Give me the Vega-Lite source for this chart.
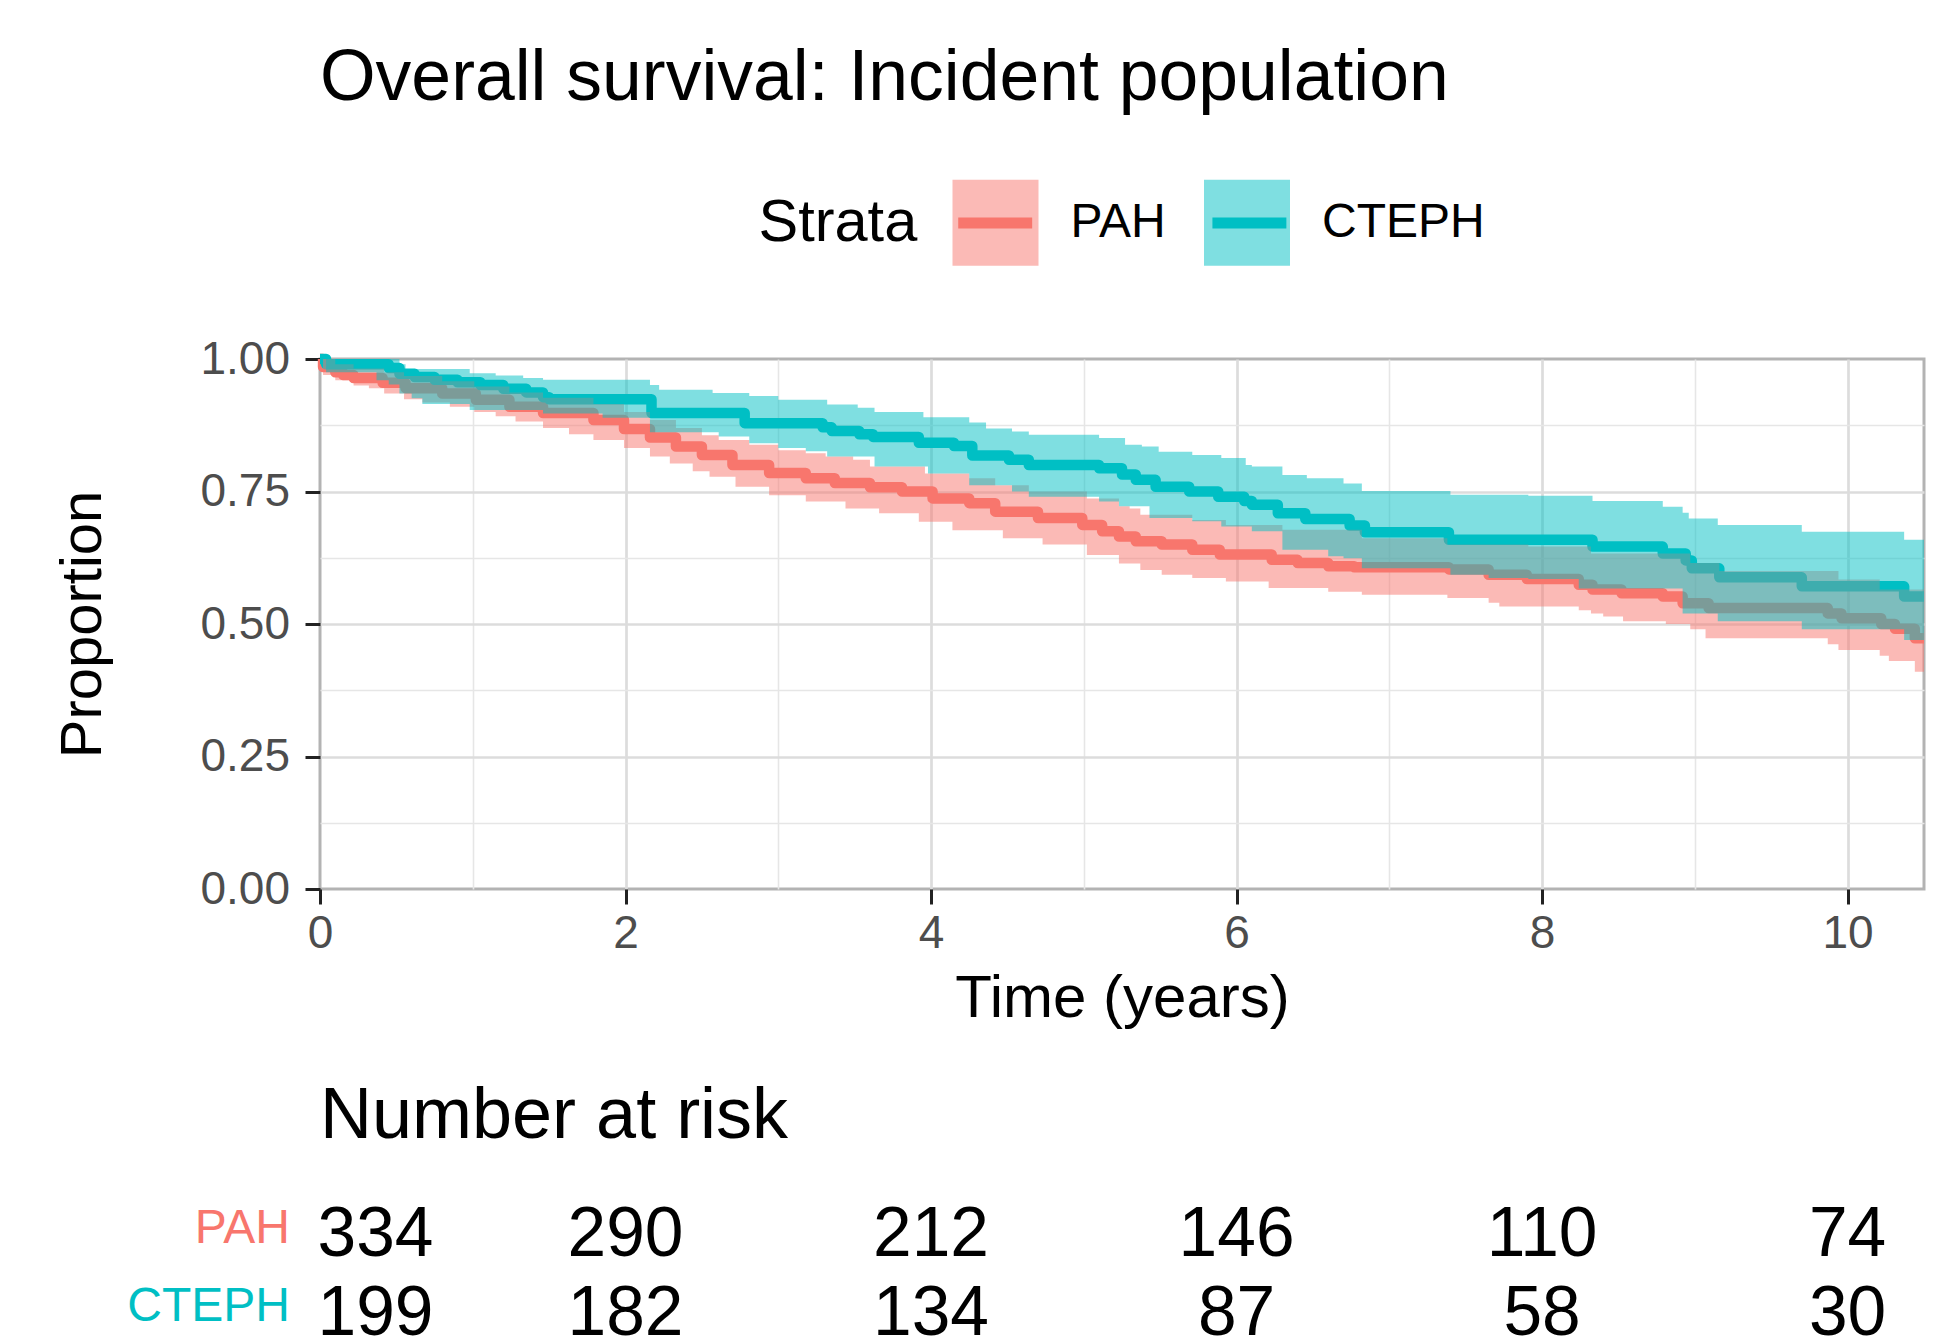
{
  "$schema": "https://vega.github.io/schema/vega-lite/v6.json",
  "background": "white",
  "padding": {"left": 53, "top": 41, "right": 20, "bottom": 0},
  "spacing": 50,
  "config": {
    "font": "Liberation Sans",
    "view": {"stroke": null},
    "title": {"fontWeight": "normal", "color": "black", "font": "Liberation Sans"}
  },
  "datasets": {
    "curve": [
      {"strata": "PAH", "time": 0, "surv": 1.0},
      {"strata": "PAH", "time": 0.02, "surv": 0.985},
      {"strata": "PAH", "time": 0.1, "surv": 0.975},
      {"strata": "PAH", "time": 0.15, "surv": 0.97},
      {"strata": "PAH", "time": 0.22, "surv": 0.964},
      {"strata": "PAH", "time": 0.41, "surv": 0.955},
      {"strata": "PAH", "time": 0.56, "surv": 0.945},
      {"strata": "PAH", "time": 0.8, "surv": 0.935},
      {"strata": "PAH", "time": 1.02, "surv": 0.923},
      {"strata": "PAH", "time": 1.24, "surv": 0.91},
      {"strata": "PAH", "time": 1.46, "surv": 0.898},
      {"strata": "PAH", "time": 1.79, "surv": 0.885},
      {"strata": "PAH", "time": 1.99, "surv": 0.868},
      {"strata": "PAH", "time": 2.16, "surv": 0.852},
      {"strata": "PAH", "time": 2.33, "surv": 0.835},
      {"strata": "PAH", "time": 2.5, "surv": 0.819},
      {"strata": "PAH", "time": 2.7, "surv": 0.8},
      {"strata": "PAH", "time": 2.94, "surv": 0.785},
      {"strata": "PAH", "time": 3.18, "surv": 0.775},
      {"strata": "PAH", "time": 3.37, "surv": 0.766},
      {"strata": "PAH", "time": 3.6, "surv": 0.758},
      {"strata": "PAH", "time": 3.81, "surv": 0.75},
      {"strata": "PAH", "time": 4.01, "surv": 0.737},
      {"strata": "PAH", "time": 4.25, "surv": 0.728},
      {"strata": "PAH", "time": 4.42, "surv": 0.712},
      {"strata": "PAH", "time": 4.7, "surv": 0.7},
      {"strata": "PAH", "time": 4.99, "surv": 0.687},
      {"strata": "PAH", "time": 5.12, "surv": 0.675},
      {"strata": "PAH", "time": 5.23, "surv": 0.665},
      {"strata": "PAH", "time": 5.34, "surv": 0.656},
      {"strata": "PAH", "time": 5.51, "surv": 0.65},
      {"strata": "PAH", "time": 5.71, "surv": 0.64},
      {"strata": "PAH", "time": 5.89, "surv": 0.631},
      {"strata": "PAH", "time": 6.23, "surv": 0.621},
      {"strata": "PAH", "time": 6.4, "surv": 0.615},
      {"strata": "PAH", "time": 6.6, "surv": 0.609},
      {"strata": "PAH", "time": 6.77, "surv": 0.607},
      {"strata": "PAH", "time": 7.39, "surv": 0.603},
      {"strata": "PAH", "time": 7.65, "surv": 0.593},
      {"strata": "PAH", "time": 7.9, "surv": 0.585},
      {"strata": "PAH", "time": 8.24, "surv": 0.574},
      {"strata": "PAH", "time": 8.33, "surv": 0.565},
      {"strata": "PAH", "time": 8.52, "surv": 0.558},
      {"strata": "PAH", "time": 8.79, "surv": 0.552},
      {"strata": "PAH", "time": 8.92, "surv": 0.539},
      {"strata": "PAH", "time": 9.09, "surv": 0.53},
      {"strata": "PAH", "time": 9.87, "surv": 0.52},
      {"strata": "PAH", "time": 9.96, "surv": 0.511},
      {"strata": "PAH", "time": 10.22, "surv": 0.5},
      {"strata": "PAH", "time": 10.31, "surv": 0.491},
      {"strata": "PAH", "time": 10.44, "surv": 0.473},
      {"strata": "PAH", "time": 10.5, "surv": 0.473},
      {"strata": "CTEPH", "time": 0, "surv": 1.0},
      {"strata": "CTEPH", "time": 0.04, "surv": 0.99},
      {"strata": "CTEPH", "time": 0.45, "surv": 0.983},
      {"strata": "CTEPH", "time": 0.52, "surv": 0.972},
      {"strata": "CTEPH", "time": 0.62, "surv": 0.966},
      {"strata": "CTEPH", "time": 0.75, "surv": 0.961},
      {"strata": "CTEPH", "time": 0.9, "surv": 0.956},
      {"strata": "CTEPH", "time": 1.05, "surv": 0.951},
      {"strata": "CTEPH", "time": 1.2, "surv": 0.944},
      {"strata": "CTEPH", "time": 1.35, "surv": 0.937},
      {"strata": "CTEPH", "time": 1.46, "surv": 0.928},
      {"strata": "CTEPH", "time": 1.5, "surv": 0.924},
      {"strata": "CTEPH", "time": 2.17, "surv": 0.898},
      {"strata": "CTEPH", "time": 2.78, "surv": 0.879},
      {"strata": "CTEPH", "time": 3.29, "surv": 0.871},
      {"strata": "CTEPH", "time": 3.35, "surv": 0.864},
      {"strata": "CTEPH", "time": 3.53, "surv": 0.858},
      {"strata": "CTEPH", "time": 3.62, "surv": 0.853},
      {"strata": "CTEPH", "time": 3.92, "surv": 0.842},
      {"strata": "CTEPH", "time": 4.15, "surv": 0.836},
      {"strata": "CTEPH", "time": 4.27, "surv": 0.818},
      {"strata": "CTEPH", "time": 4.51, "surv": 0.81},
      {"strata": "CTEPH", "time": 4.64, "surv": 0.8},
      {"strata": "CTEPH", "time": 5.1, "surv": 0.794},
      {"strata": "CTEPH", "time": 5.25, "surv": 0.782},
      {"strata": "CTEPH", "time": 5.34, "surv": 0.772},
      {"strata": "CTEPH", "time": 5.47, "surv": 0.759},
      {"strata": "CTEPH", "time": 5.69, "surv": 0.75},
      {"strata": "CTEPH", "time": 5.88, "surv": 0.74},
      {"strata": "CTEPH", "time": 6.05, "surv": 0.732},
      {"strata": "CTEPH", "time": 6.1, "surv": 0.725},
      {"strata": "CTEPH", "time": 6.27, "surv": 0.709},
      {"strata": "CTEPH", "time": 6.45, "surv": 0.698},
      {"strata": "CTEPH", "time": 6.74, "surv": 0.686},
      {"strata": "CTEPH", "time": 6.84, "surv": 0.673},
      {"strata": "CTEPH", "time": 7.39, "surv": 0.659},
      {"strata": "CTEPH", "time": 8.33, "surv": 0.646},
      {"strata": "CTEPH", "time": 8.79, "surv": 0.633},
      {"strata": "CTEPH", "time": 8.94, "surv": 0.62},
      {"strata": "CTEPH", "time": 8.98, "surv": 0.605},
      {"strata": "CTEPH", "time": 9.16, "surv": 0.588},
      {"strata": "CTEPH", "time": 9.7, "surv": 0.571},
      {"strata": "CTEPH", "time": 10.37, "surv": 0.552},
      {"strata": "CTEPH", "time": 10.5, "surv": 0.552}
    ],
    "band": [
      {"strata": "PAH", "time": 0, "lower": 1.0, "upper": 1.0},
      {"strata": "PAH", "time": 0.02, "lower": 0.97, "upper": 1.0},
      {"strata": "PAH", "time": 0.1, "lower": 0.96, "upper": 0.99},
      {"strata": "PAH", "time": 0.22, "lower": 0.95, "upper": 0.982},
      {"strata": "PAH", "time": 0.32, "lower": 0.945, "upper": 0.982},
      {"strata": "PAH", "time": 0.42, "lower": 0.935, "upper": 0.975},
      {"strata": "PAH", "time": 0.55, "lower": 0.924, "upper": 0.968},
      {"strata": "PAH", "time": 0.67, "lower": 0.918, "upper": 0.968},
      {"strata": "PAH", "time": 0.8, "lower": 0.918, "upper": 0.958},
      {"strata": "PAH", "time": 0.85, "lower": 0.91, "upper": 0.958},
      {"strata": "PAH", "time": 1.01, "lower": 0.9, "upper": 0.948},
      {"strata": "PAH", "time": 1.15, "lower": 0.892, "upper": 0.948},
      {"strata": "PAH", "time": 1.24, "lower": 0.892, "upper": 0.937},
      {"strata": "PAH", "time": 1.28, "lower": 0.882, "upper": 0.937},
      {"strata": "PAH", "time": 1.46, "lower": 0.87, "upper": 0.927},
      {"strata": "PAH", "time": 1.63, "lower": 0.858, "upper": 0.927},
      {"strata": "PAH", "time": 1.79, "lower": 0.847, "upper": 0.915},
      {"strata": "PAH", "time": 1.99, "lower": 0.832, "upper": 0.9},
      {"strata": "PAH", "time": 2.16, "lower": 0.816, "upper": 0.885},
      {"strata": "PAH", "time": 2.29, "lower": 0.803, "upper": 0.885},
      {"strata": "PAH", "time": 2.33, "lower": 0.803, "upper": 0.87},
      {"strata": "PAH", "time": 2.44, "lower": 0.788, "upper": 0.87},
      {"strata": "PAH", "time": 2.5, "lower": 0.788, "upper": 0.856},
      {"strata": "PAH", "time": 2.55, "lower": 0.778, "upper": 0.856},
      {"strata": "PAH", "time": 2.61, "lower": 0.778, "upper": 0.847},
      {"strata": "PAH", "time": 2.72, "lower": 0.759, "upper": 0.847},
      {"strata": "PAH", "time": 2.81, "lower": 0.759, "upper": 0.838},
      {"strata": "PAH", "time": 2.94, "lower": 0.743, "upper": 0.838},
      {"strata": "PAH", "time": 3.0, "lower": 0.743, "upper": 0.828},
      {"strata": "PAH", "time": 3.18, "lower": 0.731, "upper": 0.822},
      {"strata": "PAH", "time": 3.31, "lower": 0.731, "upper": 0.816},
      {"strata": "PAH", "time": 3.44, "lower": 0.718, "upper": 0.816},
      {"strata": "PAH", "time": 3.49, "lower": 0.718, "upper": 0.81},
      {"strata": "PAH", "time": 3.6, "lower": 0.718, "upper": 0.797},
      {"strata": "PAH", "time": 3.66, "lower": 0.709, "upper": 0.797},
      {"strata": "PAH", "time": 3.92, "lower": 0.693, "upper": 0.797},
      {"strata": "PAH", "time": 3.96, "lower": 0.693, "upper": 0.784},
      {"strata": "PAH", "time": 4.14, "lower": 0.677, "upper": 0.784},
      {"strata": "PAH", "time": 4.25, "lower": 0.677, "upper": 0.775},
      {"strata": "PAH", "time": 4.42, "lower": 0.677, "upper": 0.762},
      {"strata": "PAH", "time": 4.47, "lower": 0.662, "upper": 0.762},
      {"strata": "PAH", "time": 4.64, "lower": 0.662, "upper": 0.75},
      {"strata": "PAH", "time": 4.73, "lower": 0.65, "upper": 0.75},
      {"strata": "PAH", "time": 5.02, "lower": 0.63, "upper": 0.737},
      {"strata": "PAH", "time": 5.23, "lower": 0.614, "upper": 0.722},
      {"strata": "PAH", "time": 5.3, "lower": 0.614, "upper": 0.718},
      {"strata": "PAH", "time": 5.37, "lower": 0.602, "upper": 0.706},
      {"strata": "PAH", "time": 5.51, "lower": 0.593, "upper": 0.706},
      {"strata": "PAH", "time": 5.71, "lower": 0.587, "upper": 0.696},
      {"strata": "PAH", "time": 5.93, "lower": 0.58, "upper": 0.687},
      {"strata": "PAH", "time": 6.21, "lower": 0.568, "upper": 0.687},
      {"strata": "PAH", "time": 6.3, "lower": 0.568, "upper": 0.678},
      {"strata": "PAH", "time": 6.6, "lower": 0.561, "upper": 0.678},
      {"strata": "PAH", "time": 6.82, "lower": 0.555, "upper": 0.662},
      {"strata": "PAH", "time": 7.38, "lower": 0.549, "upper": 0.65},
      {"strata": "PAH", "time": 7.65, "lower": 0.54, "upper": 0.65},
      {"strata": "PAH", "time": 7.72, "lower": 0.533, "upper": 0.65},
      {"strata": "PAH", "time": 7.91, "lower": 0.533, "upper": 0.646},
      {"strata": "PAH", "time": 8.24, "lower": 0.526, "upper": 0.646},
      {"strata": "PAH", "time": 8.32, "lower": 0.52, "upper": 0.633},
      {"strata": "PAH", "time": 8.4, "lower": 0.514, "upper": 0.633},
      {"strata": "PAH", "time": 8.53, "lower": 0.505, "upper": 0.633},
      {"strata": "PAH", "time": 8.81, "lower": 0.5, "upper": 0.633},
      {"strata": "PAH", "time": 8.97, "lower": 0.49, "upper": 0.615},
      {"strata": "PAH", "time": 9.07, "lower": 0.473, "upper": 0.615},
      {"strata": "PAH", "time": 9.16, "lower": 0.473, "upper": 0.6},
      {"strata": "PAH", "time": 9.87, "lower": 0.462, "upper": 0.6},
      {"strata": "PAH", "time": 9.94, "lower": 0.451, "upper": 0.584},
      {"strata": "PAH", "time": 10.21, "lower": 0.44, "upper": 0.565},
      {"strata": "PAH", "time": 10.27, "lower": 0.43, "upper": 0.565},
      {"strata": "PAH", "time": 10.44, "lower": 0.41, "upper": 0.565},
      {"strata": "PAH", "time": 10.5, "lower": 0.41, "upper": 0.565},
      {"strata": "CTEPH", "time": 0, "lower": 1.0, "upper": 1.0},
      {"strata": "CTEPH", "time": 0.04, "lower": 0.975, "upper": 1.0},
      {"strata": "CTEPH", "time": 0.37, "lower": 0.96, "upper": 1.0},
      {"strata": "CTEPH", "time": 0.45, "lower": 0.952, "upper": 1.0},
      {"strata": "CTEPH", "time": 0.52, "lower": 0.935, "upper": 0.99},
      {"strata": "CTEPH", "time": 0.56, "lower": 0.935, "upper": 0.981},
      {"strata": "CTEPH", "time": 0.6, "lower": 0.926, "upper": 0.981},
      {"strata": "CTEPH", "time": 0.67, "lower": 0.915, "upper": 0.981},
      {"strata": "CTEPH", "time": 0.98, "lower": 0.904, "upper": 0.973},
      {"strata": "CTEPH", "time": 1.15, "lower": 0.904, "upper": 0.969},
      {"strata": "CTEPH", "time": 1.33, "lower": 0.904, "upper": 0.964},
      {"strata": "CTEPH", "time": 1.46, "lower": 0.897, "upper": 0.961},
      {"strata": "CTEPH", "time": 1.85, "lower": 0.889, "upper": 0.961},
      {"strata": "CTEPH", "time": 2.16, "lower": 0.862, "upper": 0.951},
      {"strata": "CTEPH", "time": 2.22, "lower": 0.862, "upper": 0.942},
      {"strata": "CTEPH", "time": 2.57, "lower": 0.862, "upper": 0.936},
      {"strata": "CTEPH", "time": 2.61, "lower": 0.854, "upper": 0.936},
      {"strata": "CTEPH", "time": 2.81, "lower": 0.841, "upper": 0.93},
      {"strata": "CTEPH", "time": 3.0, "lower": 0.832, "upper": 0.923},
      {"strata": "CTEPH", "time": 3.18, "lower": 0.826, "upper": 0.923},
      {"strata": "CTEPH", "time": 3.32, "lower": 0.816, "upper": 0.914},
      {"strata": "CTEPH", "time": 3.52, "lower": 0.816, "upper": 0.908},
      {"strata": "CTEPH", "time": 3.63, "lower": 0.797, "upper": 0.9},
      {"strata": "CTEPH", "time": 3.95, "lower": 0.797, "upper": 0.89},
      {"strata": "CTEPH", "time": 3.98, "lower": 0.784, "upper": 0.89},
      {"strata": "CTEPH", "time": 4.25, "lower": 0.762, "upper": 0.88},
      {"strata": "CTEPH", "time": 4.36, "lower": 0.762, "upper": 0.869},
      {"strata": "CTEPH", "time": 4.53, "lower": 0.75, "upper": 0.863},
      {"strata": "CTEPH", "time": 4.64, "lower": 0.74, "upper": 0.857},
      {"strata": "CTEPH", "time": 5.1, "lower": 0.731, "upper": 0.851},
      {"strata": "CTEPH", "time": 5.23, "lower": 0.722, "upper": 0.851},
      {"strata": "CTEPH", "time": 5.27, "lower": 0.722, "upper": 0.838},
      {"strata": "CTEPH", "time": 5.38, "lower": 0.722, "upper": 0.835},
      {"strata": "CTEPH", "time": 5.43, "lower": 0.7, "upper": 0.835},
      {"strata": "CTEPH", "time": 5.49, "lower": 0.7, "upper": 0.825},
      {"strata": "CTEPH", "time": 5.71, "lower": 0.694, "upper": 0.819},
      {"strata": "CTEPH", "time": 5.9, "lower": 0.684, "upper": 0.813},
      {"strata": "CTEPH", "time": 6.06, "lower": 0.684, "upper": 0.8},
      {"strata": "CTEPH", "time": 6.1, "lower": 0.675, "upper": 0.797},
      {"strata": "CTEPH", "time": 6.3, "lower": 0.64, "upper": 0.781},
      {"strata": "CTEPH", "time": 6.46, "lower": 0.64, "upper": 0.775},
      {"strata": "CTEPH", "time": 6.6, "lower": 0.628, "upper": 0.775},
      {"strata": "CTEPH", "time": 6.7, "lower": 0.624, "upper": 0.765},
      {"strata": "CTEPH", "time": 6.82, "lower": 0.605, "upper": 0.751},
      {"strata": "CTEPH", "time": 7.4, "lower": 0.593, "upper": 0.744},
      {"strata": "CTEPH", "time": 7.65, "lower": 0.587, "upper": 0.744},
      {"strata": "CTEPH", "time": 7.91, "lower": 0.585, "upper": 0.742},
      {"strata": "CTEPH", "time": 8.24, "lower": 0.567, "upper": 0.742},
      {"strata": "CTEPH", "time": 8.33, "lower": 0.567, "upper": 0.732},
      {"strata": "CTEPH", "time": 8.79, "lower": 0.567, "upper": 0.721},
      {"strata": "CTEPH", "time": 8.92, "lower": 0.52, "upper": 0.71},
      {"strata": "CTEPH", "time": 8.96, "lower": 0.52, "upper": 0.699},
      {"strata": "CTEPH", "time": 9.15, "lower": 0.505, "upper": 0.687},
      {"strata": "CTEPH", "time": 9.7, "lower": 0.49, "upper": 0.674},
      {"strata": "CTEPH", "time": 10.37, "lower": 0.47, "upper": 0.659},
      {"strata": "CTEPH", "time": 10.5, "lower": 0.47, "upper": 0.659}
    ],
    "risk": [
      {"strata": "PAH", "time": 0, "n": "334"},
      {"strata": "PAH", "time": 2, "n": "290"},
      {"strata": "PAH", "time": 4, "n": "212"},
      {"strata": "PAH", "time": 6, "n": "146"},
      {"strata": "PAH", "time": 8, "n": "110"},
      {"strata": "PAH", "time": 10, "n": "74"},
      {"strata": "CTEPH", "time": 0, "n": "199"},
      {"strata": "CTEPH", "time": 2, "n": "182"},
      {"strata": "CTEPH", "time": 4, "n": "134"},
      {"strata": "CTEPH", "time": 6, "n": "87"},
      {"strata": "CTEPH", "time": 8, "n": "58"},
      {"strata": "CTEPH", "time": 10, "n": "30"}
    ]
  },
  "resolve": {
    "scale": {"fill": "independent", "stroke": "independent"},
    "legend": {"fill": "independent", "stroke": "independent"}
  },
  "vconcat": [
    {
      "width": 1604,
      "height": 530,
      "title": {"text": "Overall survival: Incident population", "anchor": "start", "frame": "group", "fontSize": 71.5, "offset": 58.5, "dx": 0},
      "view": {"stroke": "#B3B3B3", "strokeWidth": 3},
      "encoding": {
        "x": {
          "field": "time", "type": "quantitative",
          "scale": {"domain": [0, 10.5], "nice": false, "zero": false},
          "axis": {
            "values": [0, 1, 2, 3, 4, 5, 6, 7, 8, 9, 10],
            "format": "d",
            "labelExpr": "datum.value % 2 ? '' : datum.label",
            "title": "Time (years)",
            "titleFontSize": 60, "titleFontWeight": "normal", "titleColor": "black", "titlePadding": 13,
            "labelFontSize": 46, "labelColor": "#4D4D4D", "labelPadding": 7, "labelFlush": false, "labelOverlap": false,
            "tickSize": 15, "tickWidth": 3, "tickColor": "#222222",
            "tickOpacity": {"condition": {"test": "datum.value % 2", "value": 0}, "value": 1},
            "grid": true,
            "gridColor": {"condition": {"test": "datum.value % 2", "value": "#E6E6E6"}, "value": "#DCDCDC"},
            "gridWidth": {"condition": {"test": "datum.value % 2", "value": 1.6}, "value": 2.7},
            "gridOpacity": {"condition": {"test": "datum.value === 0", "value": 0}, "value": 1},
            "domain": false
          }
        }
      },
      "layer": [
        {
          "data": {"name": "curve"},
          "mark": {"type": "line", "interpolate": "step-after", "strokeWidth": 10.5, "strokeJoin": "round"},
          "encoding": {
            "y": {
              "field": "surv", "type": "quantitative",
              "scale": {"domain": [0, 1], "nice": false},
              "axis": {
                "values": [0, 0.125, 0.25, 0.375, 0.5, 0.625, 0.75, 0.875, 1],
                "format": ".2f",
                "labelExpr": "(datum.value * 8) % 2 ? '' : datum.label",
                "title": "Proportion",
                "titleFontSize": 58, "titleFontWeight": "normal", "titleColor": "black", "titlePadding": 87,
                "labelFontSize": 46, "labelColor": "#4D4D4D", "labelPadding": 15.5, "labelOverlap": false, "labelFlush": false,
                "tickSize": 15, "tickWidth": 3, "tickColor": "#222222",
                "tickOpacity": {"condition": {"test": "(datum.value * 8) % 2", "value": 0}, "value": 1},
                "grid": true,
                "gridColor": {"condition": {"test": "(datum.value * 8) % 2", "value": "#E6E6E6"}, "value": "#DCDCDC"},
                "gridWidth": {"condition": {"test": "(datum.value * 8) % 2", "value": 1.6}, "value": 2.7},
                "gridOpacity": {"condition": {"test": "datum.value === 0 || datum.value === 1", "value": 0}, "value": 1},
                "domain": false
              }
            },
            "stroke": {
              "field": "strata", "type": "nominal", "sort": ["PAH", "CTEPH"],
              "scale": {"range": ["#F8766D", "#00BFC4"]},
              "legend": {
                "orient": "none", "legendX": 626.7, "legendY": -184.7, "direction": "horizontal",
                "title": null,
                "labelFontSize": 45, "labelExpr": "''", "labelOffset": 0,
                "symbolType": "M-0.86,0H0.86", "symbolSize": 7396, "symbolStrokeWidth": 11, "symbolOffset": 0,
                "columnPadding": 135.2, "padding": 0
              }
            }
          }
        },
        {
          "data": {"name": "band"},
          "mark": {"type": "area", "interpolate": "step-after", "opacity": 0.5},
          "encoding": {
            "y": {"field": "lower", "type": "quantitative", "stack": null, "title": "Proportion"},
            "y2": {"field": "upper"},
            "fill": {
              "field": "strata", "type": "nominal", "sort": ["PAH", "CTEPH"],
              "scale": {"range": ["#F8766D", "#00BFC4"]},
              "legend": {
                "orient": "none", "legendX": 438.5, "legendY": -179.2, "direction": "horizontal",
                "title": "Strata", "titleOrient": "left", "titleAnchor": "middle", "titleBaseline": "middle",
                "titleFontSize": 59.5, "titleFontWeight": "normal", "titleColor": "black", "titlePadding": 35, "titleLimit": 500,
                "labelFontSize": 48, "labelColor": "black", "labelOffset": 32, "labelLimit": 500,
                "symbolType": "square", "symbolSize": 7396, "symbolStrokeWidth": 0, "symbolOpacity": 0.5,
                "columnPadding": 37.5, "padding": 0
              }
            }
          }
        }
      ]
    },
    {
      "width": 1604,
      "height": 157,
      "title": {"text": "Number at risk", "anchor": "start", "frame": "group", "fontSize": 72, "offset": 43, "dx": 0},
      "view": {"stroke": null},
      "data": {"name": "risk"},
      "encoding": {
        "x": {"field": "time", "type": "quantitative", "scale": {"domain": [0, 10.5], "nice": false, "zero": false}, "axis": null},
        "y": {
          "field": "strata", "type": "nominal", "sort": ["PAH", "CTEPH"],
          "scale": {"paddingInner": 0, "paddingOuter": 0},
          "axis": {
            "title": null, "ticks": false, "domain": false, "grid": false,
            "labelFontSize": 48, "labelPadding": 30.5, "labelOffset": -7, "labelLimit": 500,
            "labelColor": {"condition": {"test": "datum.value === 'PAH'", "value": "#F8766D"}, "value": "#00BFC4"}
          }
        },
        "text": {"field": "n", "type": "nominal"}
      },
      "layer": [
        {
          "transform": [{"filter": "datum.time === 0"}],
          "mark": {"type": "text", "align": "left", "baseline": "middle", "fontSize": 69.5, "dx": -2.5, "color": "black"}
        },
        {
          "transform": [{"filter": "datum.time > 0"}],
          "mark": {"type": "text", "align": "center", "baseline": "middle", "fontSize": 69.5, "color": "black"}
        }
      ]
    }
  ]
}
